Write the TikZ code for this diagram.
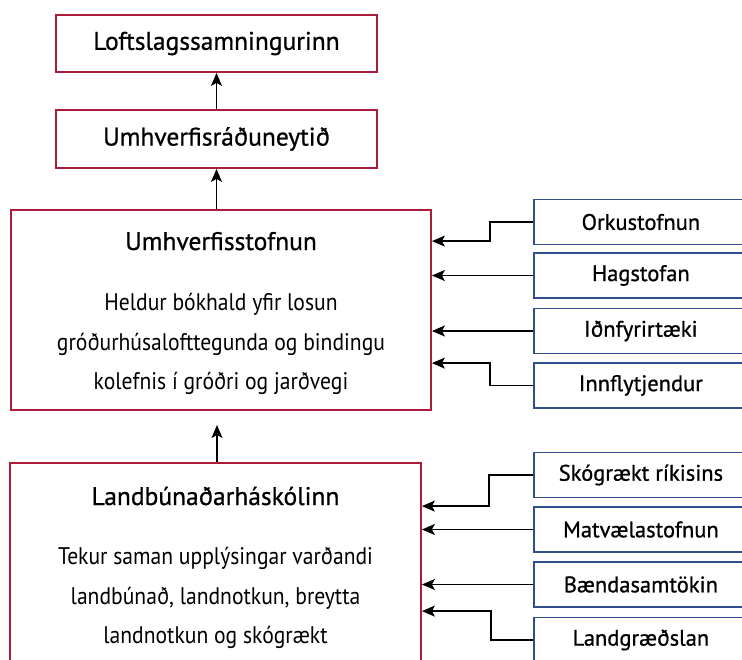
\documentclass[tikz,border=0pt]{standalone}
\usepackage{fontspec}
\setmainfont{PT Sans}
\newfontfamily\medfont[FakeBold=0.8]{PT Sans}
\newfontfamily\bodyfont[FakeStretch=0.9]{PT Sans}
\usetikzlibrary{arrows.meta}
\definecolor{umred}{RGB}{172,28,58}
\definecolor{umblue}{RGB}{48,78,140}
\tikzset{
  mainbox/.style={draw=umred, line width=1.8pt, rectangle, inner sep=0pt},
  srcbox/.style={draw=umblue, line width=1.8pt, rectangle, inner sep=0pt, anchor=west,
    minimum width=214pt, minimum height=45pt, font=\medfont\fontsize{22.5}{28}\selectfont},
  flow/.style={-{Stealth[length=13pt,width=11pt,inset=3pt]}, line width=1.3pt},
  boxtitle/.style={font=\medfont\fontsize{25.5}{30}\selectfont, inner sep=0pt},
  boxtext/.style={font=\bodyfont\fontsize{24}{39.5}\selectfont, align=center, inner sep=0pt}
}
\begin{document}
\begin{tikzpicture}[x=1pt,y=-1pt]
  \useasboundingbox (0,0) rectangle (742,659);
  \clip (0,0) rectangle (742,659);

  % chain of red boxes
  \node[mainbox, minimum width=321pt, minimum height=57pt, boxtitle] at (216.5,43.5) (loft) {Loftslagssamningurinn};
  \node[mainbox, minimum width=321pt, minimum height=58pt, boxtitle] at (216.5,139) (radu) {Umhverfisráðuneytið};
  \node[mainbox, minimum width=420pt, minimum height=200pt] at (221,310) (ust) {};
  \node[mainbox, minimum width=411pt, minimum height=200pt] at (215.5,563) (lbhi) {};

  \node[boxtitle, anchor=base] at (221,250) (ust-t) {Umhverfisstofnun};
  \node[boxtext] at (221,344) (ust-b) {Heldur bókhald yfir losun\\gróðurhúsalofttegunda og bindingu\\kolefnis í gróðri og jarðvegi};
  \node[boxtitle, anchor=base] at (215.5,505) (lbhi-t) {Landbúnaðarháskólinn};
  \node[boxtext] at (215.5,598) (lbhi-b) {Tekur saman upplýsingar varðandi\\landbúnað, landnotkun, breytta\\landnotkun og skógrækt};

  % blue source boxes
  \node[srcbox] at (533,222) (orku) {Orkustofnun};
  \node[srcbox] at (533,275.5) (hag) {Hagstofan};
  \node[srcbox] at (533,331) (idn) {Iðnfyrirtæki};
  \node[srcbox] at (533,385.5) (innfl) {Innflytjendur};
  \node[srcbox] at (533,475) (skog) {Skógrækt ríkisins};
  \node[srcbox] at (533,529.5) (matv) {Matvælastofnun};
  \node[srcbox] at (533,584.5) (baend) {Bændasamtökin};
  \node[srcbox] at (533,640) (landg) {Landgræðslan};

  \draw[flow] (radu.north) -- (loft.south);
  \draw[flow] (ust.north -| radu.south) -- (radu.south);
  \coordinate (gap) at (217,425);
  \draw[flow] (lbhi.north -| gap) -- (gap);

  \draw[flow] (orku.west) -- ++(-43,0) |- ([yshift=-32pt]ust.north east);
  \draw[flow] (hag.west) -- (hag.west -| ust.east);
  \draw[flow] (idn.west) -- (idn.west -| ust.east);
  \draw[flow] (innfl.west) -- ++(-43,0) |- ([yshift=-154pt]ust.north east);

  \draw[flow] (skog.west) -- ++(-44,0) |- ([yshift=-44pt]lbhi.north east);
  \draw[flow] (matv.west) -- (matv.west -| lbhi.east);
  \draw[flow] (baend.west) -- (baend.west -| lbhi.east);
  \draw[flow] (landg.west) -- ++(-42,0) |- ([yshift=-149pt]lbhi.north east);
\end{tikzpicture}
\end{document}
